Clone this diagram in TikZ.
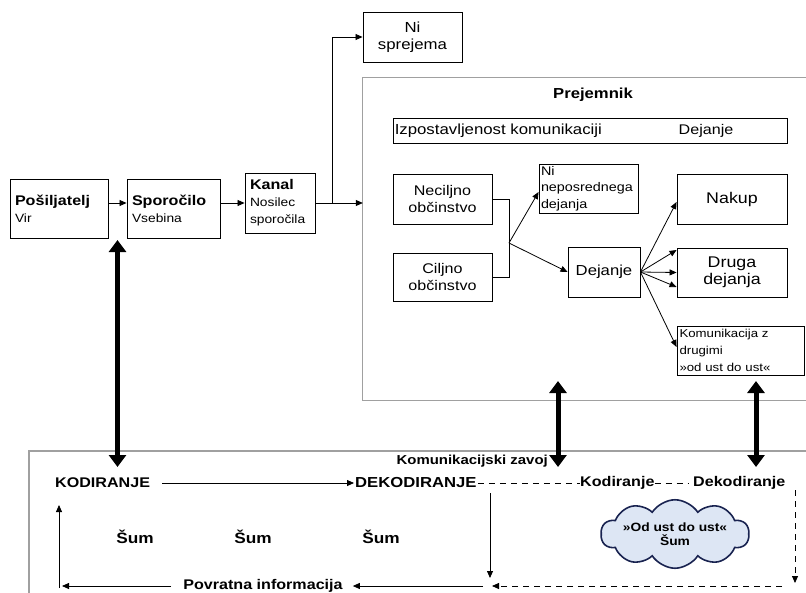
\documentclass[tikz,border=0pt]{standalone}
\usepackage{fontspec}
\setmainfont{Liberation Sans}[FakeStretch=1.15]
\usetikzlibrary{arrows.meta,shapes.symbols,calc}

\definecolor{framegray}{RGB}{160,160,160}
\definecolor{cloudfill}{RGB}{221,230,244}
\definecolor{cloudline}{RGB}{25,35,80}

\newcommand\fsMain{\fontsize{14}{16.5}\selectfont}
\newcommand\fsWide{\fontsize{14.6}{16.5}\selectfont}
\newcommand\fsBig{\fontsize{15.5}{17}\selectfont}
\newcommand\fsSub{\fontsize{12}{17}\selectfont}
\newcommand\fsNote{\fontsize{11.5}{17}\selectfont}
\newcommand\fsHead{\fontsize{14}{17}\selectfont\bfseries}
\newcommand\fsLbl{\fontsize{14}{16}\selectfont\bfseries}
\newcommand\fsDek{\fontsize{14.5}{16}\selectfont\bfseries}
\newcommand\fsSum{\fontsize{15}{16}\selectfont\bfseries}
\newcommand\fsZavoj{\fontsize{13}{16}\selectfont\bfseries}
\newcommand\fsCloud{\fontsize{12}{14.5}\selectfont\bfseries}

\begin{document}
\begin{tikzpicture}[x=1pt,y=-1pt,
  box/.style={draw=black,line width=0.9pt,inner sep=2pt,font=\fsMain,align=center},
  lbox/.style={box,align=left},
  frame/.style={draw=framegray,line width=1.2pt},
  conn/.style={line width=0.8pt},
  link/.style={line width=0.8pt,-{Triangle[length=7pt,width=6pt]}},
  dlink/.style={link,dash pattern=on 6pt off 5pt},
  dline/.style={conn,dash pattern=on 6pt off 5pt},
  big/.style={line width=5pt,{Triangle[length=12pt,width=17pt]}-{Triangle[length=12pt,width=17pt]}},
  lbl/.style={font=\fsLbl,inner sep=0pt}]

\fill[white] (0,0) rectangle (806,592);
\useasboundingbox (0,0) rectangle (806,592);

% ---- sender chain ----
\node[lbox,font=\fsSub,minimum width=98,minimum height=59,text width=88] (src) at (59,208.5)
  {{\fsHead Pošiljatelj}\\Vir};
\node[lbox,font=\fsSub,minimum width=93,minimum height=59,text width=83] (msg) at (173.5,208.5)
  {{\fsHead Sporočilo}\\Vsebina};
\node[lbox,font=\fsSub,minimum width=70,minimum height=60,text width=60] (chan) at (280,203)
  {{\fsHead Kanal}\\Nosilec\\sporočila};
\node[box,font=\fsWide,minimum width=99,minimum height=50] (nosp) at (412.5,37) {Ni\\sprejema};

\draw[link] (src.east |- 0,203) -- (msg.west |- 0,203);
\draw[link] (msg.east |- 0,203) -- (chan.west |- 0,203);

% ---- receiver frame ----
\node[minimum width=460,minimum height=322,inner sep=0pt] (recv) at (593,239) {};
\draw[frame] (recv.north east) -- (recv.north west) -- (recv.south west) -- (recv.south east);
\node[font=\fontsize{14.5}{17}\selectfont\bfseries] (recvTitle) at (593,95) {Prejemnik};

\coordinate (fork) at (332,203);
\draw[conn] (chan.east |- fork) -- (fork);
\draw[link] (fork) -- (recv.west |- fork);
\draw[link] (fork) |- (nosp.west);

\node[box,minimum width=394,minimum height=25] (expo) at (590,130.5) {};
\node[font=\fsWide,anchor=west,inner sep=0pt] (expoL) at ($(expo.west)+(2,0)$) {Izpostavljenost komunikaciji};
\node[font=\fsMain,inner sep=0pt] (expoR) at (706,130.5) {Dejanje};

\node[box,minimum width=99,minimum height=50] (nontgt) at (442.5,199) {Neciljno\\občinstvo};
\node[box,minimum width=99,minimum height=48] (tgt) at (442.5,277) {Ciljno\\občinstvo};
\node[lbox,font=\fontsize{12.5}{16.5}\selectfont,minimum width=99,minimum height=49,text width=95,inner sep=1pt] (noact) at (588.5,188.5)
  {Ni\\neposrednega\\dejanja};
\node[box,font=\fontsize{14.5}{16.5}\selectfont,minimum width=72,minimum height=50] (act) at (604,272) {Dejanje};
\node[box,font=\fsBig,minimum width=110,minimum height=50] (buy) at (732,199) {Nakup};
\node[box,font=\fsBig,minimum width=110,minimum height=49] (other) at (732,272.5) {Druga\\dejanja};
\node[lbox,font=\fsNote,minimum width=127,minimum height=49,text width=122,inner sep=1pt] (wom) at (740.5,350.5)
  {Komunikacija z\\drugimi\\»od ust do ust«};

\coordinate (split) at (509,243);
\draw[conn] (nontgt.east) -- (split |- nontgt.east) -- (split |- tgt.east) -- (tgt.east);
\draw[link] (split) -- ($(noact.west)+(0,3.5)$);
\draw[link] (split) -- (act.west);

\draw[link] (act.east) -- ($(buy.west)+(0,3)$);
\draw[link] (act.east) -- ($(other.west)+(0,-22.5)$);
\draw[link] (act.east) -- (other.west);
\draw[link] (act.east) -- ($(other.west)+(0,14.5)$);
\draw[link] (act.east) -- ($(wom.west)+(0,-3.5)$);

% ---- communication loop ----
\coordinate (loopTR) at (806,451);
\coordinate (loopTL) at (29,451);
\coordinate (loopBL) at (29,600);
\draw[frame] (loopTR) -- (loopTL) -- (loopBL);

\node[font=\fsZavoj,inner sep=0pt,anchor=east] (kz) at (548,461) {Komunikacijski zavoj};
\node[lbl,anchor=west] (KOD) at (55,483) {KODIRANJE};
\node[lbl,font=\fsDek,anchor=west] (DEK) at (355,483) {DEKODIRANJE};
\node[lbl,anchor=west] (kod2) at (580,483) {Kodiranje};
\node[lbl,anchor=west] (dek2) at (693,483) {Dekodiranje};

\draw[link,shorten <=12pt,shorten >=1pt] (KOD) -- (DEK);
\draw[dline,shorten <=1pt] (DEK) -- (kod2);
\draw[dline,shorten >=5pt] (kod2) -- (dek2);

% thick two-way arrows
\coordinate (bigA1) at (117.5,240);  \coordinate (bigB1) at (117.5,467);
\coordinate (bigA2) at (558,381);    \coordinate (bigB2) at (558,467);
\coordinate (bigA3) at (756,381);    \coordinate (bigB3) at (756,467);
\draw[big] (bigA1) -- (bigB1);
\draw[big] (bigA2) -- (bigB2);
\draw[big] (bigA3) -- (bigB3);

\node[lbl,font=\fsSum] (sum1) at (135,537) {Šum};
\node[lbl,font=\fsSum] (sum2) at (253,537) {Šum};
\node[lbl,font=\fsSum] (sum3) at (381,537) {Šum};

\node[cloud,cloud puffs=10,cloud puff arc=115,cloud ignores aspect,draw=cloudline,fill=cloudfill,
  line width=1.6pt,inner xsep=0pt,inner ysep=4.5pt,align=center,font=\fsCloud]
  (cloud) at (675,534) {»Od ust do ust«\\Šum};

% feedback path
\coordinate (decDrop) at (490,493);
\coordinate (fbJoin) at (492,586);
\coordinate (dekDrop) at (795,490);
\coordinate (dekLand) at (795,583);
\coordinate (fbStart) at (782,586);
\coordinate (fbCorner) at (62,586);
\coordinate (upFrom) at (59,588);
\coordinate (upTo) at (59,505);

\node[lbl,font=\fsHead,anchor=base] (fb) at (263,589) {Povratna informacija};

\draw[link] (decDrop) -- (decDrop |- 0,578);
\draw[dlink] (dekDrop) -- (dekLand);
\draw[dlink] (fbStart) -- (fbJoin);
\draw[link] ($(fbJoin)+(-9,0)$) -- ($(fb.east |- fbJoin)+(10,0)$);
\draw[link] ($(fb.west |- fbJoin)+(-12,0)$) -- (fbCorner);
\draw[link] (upFrom) -- (upTo);

\end{tikzpicture}
\end{document}
